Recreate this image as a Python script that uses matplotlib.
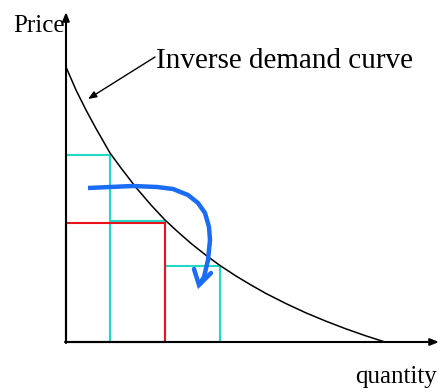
import matplotlib
matplotlib.use("Agg")
import matplotlib.pyplot as plt
from matplotlib.patches import Rectangle

plt.rcParams['font.family'] = ['Liberation Serif', 'DejaVu Serif']

# inverse demand curve (quantity, price)
curve_q = [0, 10, 20, 30, 44, 55, 70, 85, 99, 112, 125, 140, 154, 170, 185,
           200, 220, 240, 260, 280, 300, 319]
curve_p = [275, 252, 232, 213.5, 189, 174, 154.5, 137, 122, 110, 98.6, 86.7, 76.5, 66, 57,
           48.5, 38.4, 29.1, 20.8, 13.1, 6.1, 0]

# step rectangles (cyan): left edge, right edge, height
cyan_left = [0, 44, 99]
cyan_right = [44, 99, 154]
cyan_height = [187, 121, 76]

# single red rectangle
red_left, red_right, red_height = 0, 99, 119

# hand drawn blue arrow
blue_q = [22, 44, 67, 91, 107, 122, 132, 139, 143, 144, 142, 138, 133]
blue_p = [154, 155, 156, 155, 153, 147, 139, 129, 115, 102, 82, 65, 57]
head_q = [128, 133, 145]
head_p = [73, 57, 69]

fig = plt.figure(figsize=(4.39, 3.92), dpi=100)
ax = fig.add_axes([0, 0, 1, 1])
ax.set_xlim(-66, 373)
ax.set_ylim(-50, 342)
ax.axis('off')

for l, r, h in zip(cyan_left, cyan_right, cyan_height):
    ax.add_patch(Rectangle((l, 0), r - l, h, fill=False, edgecolor='#22d8c6', lw=1.5, zorder=2))
ax.add_patch(Rectangle((red_left, 0), red_right - red_left, red_height, fill=False,
                       edgecolor='#e8141c', lw=1.5, zorder=3))

ax.plot(curve_q, curve_p, color='black', lw=1.1, zorder=4)

ax.plot(blue_q, blue_p, color='#1a6cf5', lw=3.2, solid_capstyle='butt', solid_joinstyle='round', zorder=5)
ax.plot(head_q, head_p, color='#1a6cf5', lw=3.2, solid_capstyle='round', solid_joinstyle='miter', zorder=5)

# axes with arrow heads
ax.annotate('', xy=(0, 330), xytext=(0, -1),
            arrowprops=dict(arrowstyle='-|>,head_length=0.5,head_width=0.2', color='black', lw=1.5,
                            shrinkA=0, shrinkB=0))
ax.annotate('', xy=(373, 0), xytext=(-1, 0),
            arrowprops=dict(arrowstyle='-|>,head_length=0.5,head_width=0.2', color='black', lw=1.5,
                            shrinkA=0, shrinkB=0))

ax.text(-1, 310, 'Price', fontsize=18, ha='right', va='baseline')
ax.text(371, -41, 'quantity', fontsize=18, ha='right', va='baseline')

ax.text(90, 274, 'Inverse demand curve', fontsize=21, ha='left', va='baseline')
ax.annotate('', xy=(22, 243), xytext=(89, 285),
            arrowprops=dict(arrowstyle='-|>,head_length=0.5,head_width=0.2', color='black', lw=1.0,
                            shrinkA=0, shrinkB=0))

fig.savefig('out.png', dpi=100)
